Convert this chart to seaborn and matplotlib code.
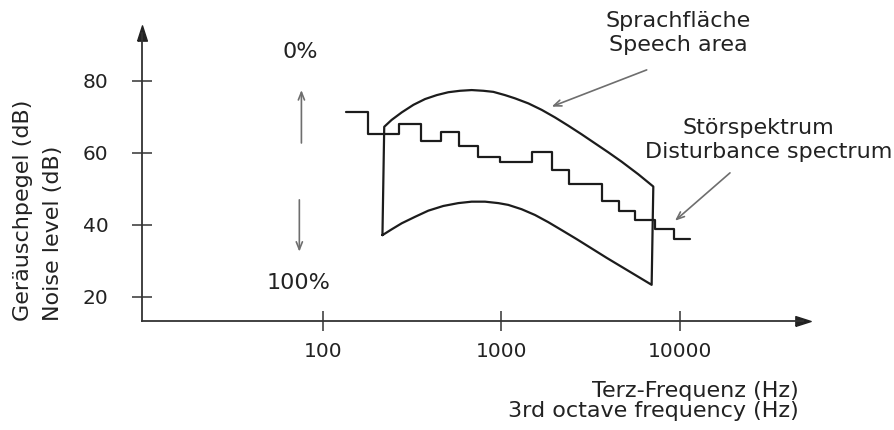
import numpy as np
import pandas as pd
import matplotlib
matplotlib.use("Agg")
import matplotlib.pyplot as plt
import seaborn as sns

# Third-octave disturbance spectrum: band edges (Hz) and level per band (dB)
dist_edges = [135, 180, 267, 355, 459, 583, 743, 977, 1479, 1913, 2398,
              3646, 4585, 5599, 7200, 9316, 11450]
dist_levels = [71.2, 65.1, 67.9, 63.3, 65.8, 61.9, 58.8, 57.3, 60.1, 55.1,
               51.3, 46.5, 43.7, 41.2, 38.7, 36.0]

# Speech area: upper and lower boundary (frequency in Hz, level in dB)
upper_freq = [221, 243, 277, 322, 374, 435, 505, 587, 682, 793, 902, 1048,
              1192, 1416, 1682, 1997, 2371, 2816, 3344, 3971, 4715, 5846, 7090]
upper_db = [67.2, 69.1, 71.2, 73.3, 74.9, 76.0, 76.8, 77.2, 77.4, 77.2, 76.9,
            76.0, 75.1, 73.7, 71.9, 69.8, 67.5, 65.1, 62.6, 60.1, 57.5, 54.0, 50.6]
lower_freq = [216, 243, 277, 329, 390, 473, 574, 682, 810, 962, 1094, 1299,
              1543, 1832, 2176, 2640, 3203, 3886, 4715, 5722, 6940]
lower_db = [37.1, 38.7, 40.4, 42.2, 43.9, 45.2, 46.0, 46.4, 46.4, 46.0, 45.5,
            44.3, 42.7, 40.7, 38.5, 36.0, 33.4, 30.8, 28.3, 25.8, 23.3]

x_ticks = [100, 1000, 10000]
x_ticklabels = ["100", "1000", "10000"]
y_ticks = [20, 40, 60, 80]

W, H = 895, 430
sns.set_style("white")
plt.rcParams["font.family"] = ["DejaVu Sans"]

fig = plt.figure(figsize=(W / 100, H / 100), dpi=100)

def fpx(x, y):
    """Figure-fraction position from pixel position (origin top-left)."""
    return x / W, 1 - y / H

ax_l, ax_r, ax_t, ax_b = 141.7, 803, 33, 321.3
ax = fig.add_axes([ax_l / W, 1 - ax_b / H, (ax_r - ax_l) / W, (ax_b - ax_t) / H])
ax.set_xscale("log")
ax.set_xlim(9.70, 48820)
ax.set_ylim(13.17, 93.25)

ink = "#1c1c1c"
grey = "#6e6e6e"

# speech area as one closed outline
poly = pd.DataFrame({
    "f": lower_freq + upper_freq[::-1] + lower_freq[:1],
    "db": lower_db + upper_db[::-1] + lower_db[:1],
})
sns.lineplot(data=poly, x="f", y="db", sort=False, estimator=None,
             color=ink, lw=1.6, ax=ax)

# disturbance spectrum as a staircase
steps = pd.DataFrame({"f": dist_edges, "db": dist_levels + dist_levels[-1:]})
sns.lineplot(data=steps, x="f", y="db", sort=False, estimator=None,
             drawstyle="steps-post", color=ink, lw=1.6, ax=ax)

# axes with arrowheads
for s in ["top", "right"]:
    ax.spines[s].set_visible(False)
for s in ["left", "bottom"]:
    ax.spines[s].set_color("#333333")
    ax.spines[s].set_linewidth(1.3)
head = [(-0.32, -0.5), (0.32, -0.5), (0.0, 0.5), (-0.32, -0.5)]
head_r = [(-0.5, -0.32), (-0.5, 0.32), (0.5, 0.0), (-0.5, -0.32)]
ax.plot([0], [1], marker=head, ms=11, color="#222222",
        transform=ax.transAxes, clip_on=False)
ax.plot([1], [0], marker=head_r, ms=11, color="#222222",
        transform=ax.transAxes, clip_on=False)

ax.set_xticks(x_ticks)
ax.set_xticklabels(x_ticklabels)
ax.xaxis.set_minor_locator(matplotlib.ticker.NullLocator())
ax.set_yticks(y_ticks)
ax.tick_params(axis="both", which="major", bottom=True, left=True,
               direction="inout", length=15, width=1.1,
               color="#333333", labelsize=14.5, labelcolor="#222222")
ax.tick_params(axis="y", pad=16.5)
ax.tick_params(axis="x", pad=7.5)
ax.set_xlabel("")
ax.set_ylabel("")

# percentage arrows
arrow_kw = dict(arrowstyle="->,head_length=0.55,head_width=0.22",
                color=grey, lw=1.2, shrinkA=0, shrinkB=0)
ax.annotate("", xy=(76, 77.4), xytext=(76, 62.7), arrowprops=arrow_kw)
ax.annotate("", xy=(74, 32.5), xytext=(74, 46.9), arrowprops=arrow_kw)
ax.annotate("", xy=(1913, 72.8), xytext=(6510, 83.0), arrowprops=arrow_kw,
            annotation_clip=False)
ax.annotate("", xy=(9376, 41.1), xytext=(19050, 54.4), arrowprops=arrow_kw,
            annotation_clip=False)

txt = dict(fontsize=16, color="#222222")
fig.text(*fpx(300, 52), "0%", ha="center", va="center", **txt)
fig.text(*fpx(299, 283), "100%", ha="center", va="center", **txt)
fig.text(*fpx(678, 21), "Sprachfläche", ha="center", va="center", **txt)
fig.text(*fpx(678, 45), "Speech area", ha="center", va="center", **txt)
fig.text(*fpx(758, 128), "Störspektrum", ha="center", va="center", **txt)
fig.text(*fpx(769, 152), "Disturbance spectrum", ha="center", va="center", **txt)
fig.text(*fpx(799, 391), "Terz-Frequenz (Hz)", ha="right", va="center", **txt)
fig.text(*fpx(799, 411), "3rd octave frequency (Hz)", ha="right", va="center", **txt)
fig.text(*fpx(23, 321), "Geräuschpegel (dB)", rotation=90, ha="center", va="bottom", **txt)
fig.text(*fpx(53, 321), "Noise level (dB)", rotation=90, ha="center", va="bottom", **txt)

fig.savefig("out.png", dpi=100, facecolor="white")
